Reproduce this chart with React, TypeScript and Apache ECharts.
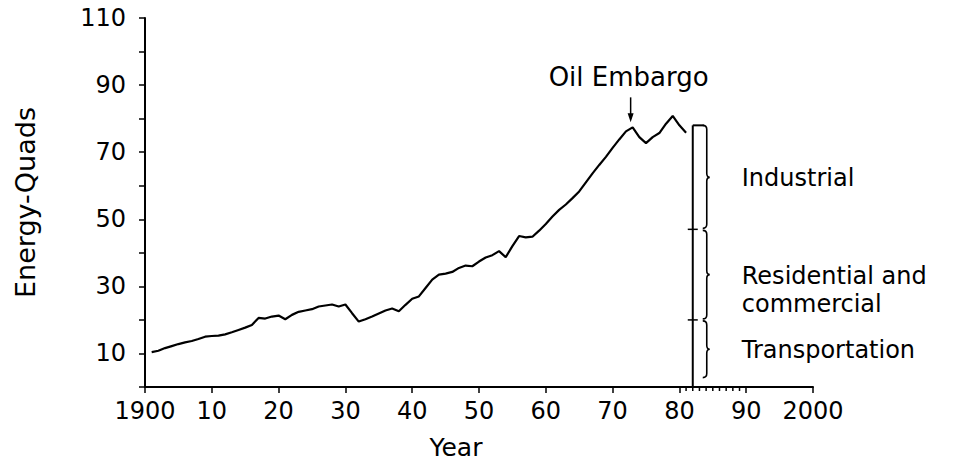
import React, { useEffect, useRef } from "react";
import * as echarts from "echarts";

const years = [
  1901, 1902, 1903, 1904, 1905, 1906, 1907, 1908, 1909, 1910,
  1911, 1912, 1913, 1914, 1915, 1916, 1917, 1918, 1919, 1920,
  1921, 1922, 1923, 1924, 1925, 1926, 1927, 1928, 1929, 1930,
  1931, 1932, 1933, 1934, 1935, 1936, 1937, 1938, 1939, 1940,
  1941, 1942, 1943, 1944, 1945, 1946, 1947, 1948, 1949, 1950,
  1951, 1952, 1953, 1954, 1955, 1956, 1957, 1958, 1959, 1960,
  1961, 1962, 1963, 1964, 1965, 1966, 1967, 1968, 1969, 1970,
  1971, 1972, 1973, 1974, 1975, 1976, 1977, 1978, 1979, 1980,
  1981,
];
const energyQuads = [
  10.4, 10.8, 11.6, 12.2, 12.8, 13.3, 13.7, 14.3, 15.0, 15.2,
  15.3, 15.7, 16.3, 17.0, 17.7, 18.5, 20.6, 20.4, 21.0, 21.3,
  20.2, 21.5, 22.4, 22.8, 23.2, 24.0, 24.3, 24.6, 24.0, 24.6,
  22.0, 19.5, 20.2, 21.0, 21.9, 22.8, 23.4, 22.6, 24.5, 26.3,
  27.0, 29.5, 32.0, 33.5, 33.8, 34.3, 35.5, 36.2, 36.0, 37.4,
  38.6, 39.3, 40.5, 38.7, 42.0, 45.0, 44.6, 44.8, 46.6, 48.6,
  50.8, 52.8, 54.4, 56.3, 58.3, 61.0, 63.7, 66.2, 68.6, 71.3,
  73.8, 76.2, 77.4, 74.5, 72.7, 74.5, 75.7, 78.5, 80.8, 78.0,
  75.8,
];
const sectorNames = ["Transportation", "Residential and\ncommercial", "Industrial"];
const sectorBounds = [2.5, 20, 47, 78];
const bracketYear = 1982;
const minorTickYears = [1981, 1982, 1983, 1984, 1985, 1986, 1987, 1988, 1989];
const embargoYear = 1973;
const embargoLabel = "Oil Embargo";
const xTickLabels = ["1900", "10", "20", "30", "40", "50", "60", "70", "80", "90", "2000"];
const yTickLabels = [10, 30, 50, 70, 90, 110];

const FONT = "DejaVu Sans";

export default function App() {
  const ref = useRef<HTMLDivElement>(null);
  useEffect(() => {
    document.body.style.margin = "0";
    if (!ref.current) return;
    const chart = echarts.init(ref.current, null, { renderer: "svg" });
    const embargoValue = energyQuads[years.indexOf(embargoYear)];
    chart.setOption({
      animation: false,
      backgroundColor: "#fff",
      grid: { left: 145, right: 156, top: 18, bottom: 77, containLabel: false },
      xAxis: {
        type: "value",
        min: 1900,
        max: 2000,
        interval: 10,
        axisLine: { lineStyle: { color: "#000", width: 2 } },
        axisTick: { show: true, length: 6, lineStyle: { color: "#000", width: 1.5 } },
        axisLabel: {
          color: "#000",
          fontFamily: FONT,
          fontSize: 24,
          margin: 12,
          formatter: (v: number) => xTickLabels[Math.round((v - 1900) / 10)] ?? "",
        },
        splitLine: { show: false },
      },
      yAxis: {
        type: "value",
        min: 0,
        max: 110,
        interval: 10,
        name: "Energy-Quads",
        nameLocation: "middle",
        nameGap: 106,
        nameTextStyle: { color: "#000", fontFamily: FONT, fontSize: 27 },
        axisLine: { lineStyle: { color: "#000", width: 2 } },
        axisTick: { show: true, length: 6, lineStyle: { color: "#000", width: 1.5 } },
        axisLabel: {
          color: "#000",
          fontFamily: FONT,
          fontSize: 24,
          margin: 19,
          formatter: (v: number) => (yTickLabels.includes(v) ? String(v) : ""),
        },
        splitLine: { show: false },
      },
      graphic: [
        {
          type: "text",
          x: 456,
          y: 447,
          style: {
            text: "Year",
            fill: "#000",
            font: `25px "${FONT}"`,
            align: "center",
            verticalAlign: "middle",
          },
        },
      ],
      series: [
        {
          type: "line",
          data: years.map((y, i) => [y, energyQuads[i]]),
          symbol: "none",
          lineStyle: { color: "#000", width: 2.2 },
        },
        {
          type: "custom",
          data: minorTickYears.map((y) => [y, 0]),
          renderItem: (params: any, api: any) => {
            const p = api.coord([api.value(0), 0]);
            return {
              type: "line",
              shape: { x1: p[0], y1: p[1], x2: p[0], y2: p[1] + 4 },
              style: { stroke: "#000", lineWidth: 1.5 },
            };
          },
        },
        {
          type: "custom",
          data: sectorNames.map((n, i) => [bracketYear, sectorBounds[i], sectorBounds[i + 1], i]),
          renderItem: (params: any, api: any) => {
            const x = api.value(0);
            const lo = api.value(1);
            const hi = api.value(2);
            const idx = api.value(3);
            const pLo = api.coord([x, lo]);
            const pHi = api.coord([x, hi]);
            const base = api.coord([x, 0]);
            const x0 = pLo[0];
            const bx = x0 + 14;
            const yTop = pHi[1];
            const yBot = pLo[1];
            const mid = (yTop + yBot) / 2;
            const children: any[] = [];
            children.push({
              type: "line",
              shape: { x1: x0, y1: idx === 0 ? base[1] : yBot, x2: x0, y2: yTop },
              style: { stroke: "#000", lineWidth: 2 },
            });
            if (idx > 0) {
              children.push({
                type: "line",
                shape: { x1: x0 - 5, y1: yBot, x2: x0 + 5, y2: yBot },
                style: { stroke: "#000", lineWidth: 1.5 },
              });
            }
            if (idx === sectorNames.length - 1) {
              children.push({
                type: "line",
                shape: { x1: x0, y1: yTop, x2: bx - 3, y2: yTop },
                style: { stroke: "#000", lineWidth: 2 },
              });
            }
            const t = idx === sectorNames.length - 1 ? yTop : yTop + 1;
            const b = yBot - 1;
            const d =
              `M${bx - 4},${t} Q${bx},${t} ${bx},${t + 4} L${bx},${mid - 4} ` +
              `Q${bx},${mid} ${bx + 3},${mid} Q${bx},${mid} ${bx},${mid + 4} ` +
              `L${bx},${b - 4} Q${bx},${b} ${bx - 4},${b}`;
            children.push({
              type: "path",
              shape: { pathData: d },
              style: { stroke: "#000", fill: "none", lineWidth: 1.6 },
            });
            children.push({
              type: "text",
              x: x0 + 49,
              y: mid - 13,
              style: {
                text: sectorNames[idx],
                fill: "#000",
                font: `24px "${FONT}"`,
                lineHeight: 28,
                verticalAlign: "top",
                align: "left",
              },
            });
            return { type: "group", children };
          },
        },
        {
          type: "custom",
          data: [[embargoYear, embargoValue]],
          renderItem: (params: any, api: any) => {
            const p = api.coord([api.value(0), api.value(1)]);
            return {
              type: "group",
              children: [
                {
                  type: "line",
                  shape: { x1: p[0] - 2, y1: p[1] - 30, x2: p[0] - 2, y2: p[1] - 9 },
                  style: { stroke: "#000", lineWidth: 1.5 },
                },
                {
                  type: "polygon",
                  shape: { points: [[p[0] - 5, p[1] - 14], [p[0] + 1, p[1] - 14], [p[0] - 2, p[1] - 5]] },
                  style: { fill: "#000" },
                },
                {
                  type: "text",
                  x: p[0] - 4,
                  y: p[1] - 50,
                  style: {
                    text: embargoLabel,
                    fill: "#000",
                    font: `26px "${FONT}"`,
                    align: "center",
                    verticalAlign: "middle",
                  },
                },
              ],
            };
          },
        },
      ],
    });
    return () => chart.dispose();
  }, []);
  return <div ref={ref} style={{ width: 969, height: 464 }} />;
}
